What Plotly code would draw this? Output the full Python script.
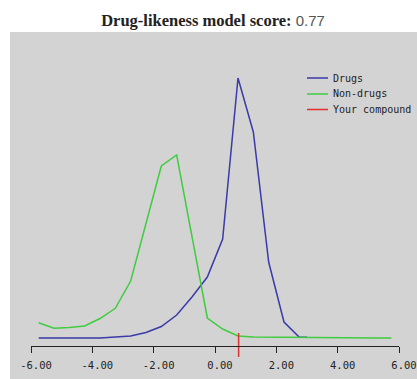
import plotly.graph_objects as go

# ---- data ----
drug_x = [-5.75, -5.25, -4.75, -4.25, -3.75, -3.25, -2.75, -2.25, -1.75, -1.25,
          -0.75, -0.25, 0.25, 0.75, 1.25, 1.75, 2.25, 2.75, 3.0]
drug_y = [0.0, 0.0, 0.0, 0.0, 0.0, 0.1, 0.2, 0.55, 1.15, 2.3,
          4.1, 6.1, 9.9, 26.0, 20.6, 7.6, 1.6, 0.07, 0.07]

nondrug_x = [-5.75, -5.25, -4.75, -4.25, -3.75, -3.25, -2.75, -2.25, -1.75, -1.25,
             -0.75, -0.25, 0.25, 0.75, 1.25, 1.75, 2.25, 2.75, 3.25, 3.75,
             4.25, 4.75, 5.25, 5.75]
nondrug_y = [1.53, 0.97, 1.05, 1.2, 1.95, 2.97, 5.7, 11.5, 17.2, 18.3,
             10.0, 2.0, 0.9, 0.2, 0.1, 0.08, 0.05, 0.05, 0.02, 0.0,
             0.0, 0.0, 0.0, 0.0]

score = 0.77
marker_y = [0.5, -1.9]

series_names = ["Drugs", "Non-drugs", "Your compound"]
series_colors = ["#3a3aa8", "#3fcc3f", "#e03030"]

tick_vals = [-6, -4, -2, 0, 2, 4, 6]
tick_text = ["-6.00", "-4.00", "-2.00", "0.00", "2.00", "4.00", "6.00"]

# ---- geometry ----
W, H = 417, 379
ml, mr, mt, mb = 31, 18, 40, 19
plot_h = H - mt - mb
pw = W - ml - mr
axis_px = 346
GRAY = "#d3d3d3"


def px_x(p):
    return (p - ml) / pw


def px_y(p):
    return (H - mb - p) / plot_h


fig = go.Figure()
fig.add_trace(go.Scatter(x=drug_x, y=drug_y, mode="lines", name=series_names[0],
                         line=dict(color=series_colors[0], width=1.5)))
fig.add_trace(go.Scatter(x=nondrug_x, y=nondrug_y, mode="lines", name=series_names[1],
                         line=dict(color=series_colors[1], width=1.5)))
fig.add_trace(go.Scatter(x=[score, score], y=marker_y, mode="lines", name=series_names[2],
                         line=dict(color=series_colors[2], width=1.5)))

# gray panel behind the whole chart
fig.add_shape(type="rect", xref="paper", yref="paper", layer="below",
              x0=px_x(10), x1=px_x(W + 2), y0=px_y(H + 2), y1=px_y(32),
              fillcolor=GRAY, line=dict(width=0))

# legend drawn by hand (compact rows)
legend_rows = [78, 94, 109.5]
for name, color, ry in zip(series_names, series_colors, legend_rows):
    fig.add_shape(type="line", xref="paper", yref="paper",
                  x0=px_x(307), x1=px_x(328), y0=px_y(ry), y1=px_y(ry),
                  line=dict(color=color, width=1.5))
    fig.add_annotation(xref="paper", yref="paper", x=px_x(331), y=px_y(ry),
                       xanchor="left", yanchor="middle", showarrow=False,
                       text=name, font=dict(family="DejaVu Sans Mono", size=10, color="#222"))

fig.update_layout(
    width=W, height=H,
    margin=dict(l=ml, r=mr, t=mt, b=mb, autoexpand=False),
    paper_bgcolor="white", plot_bgcolor=GRAY,
    title=dict(
        text="<b>Drug-likeness model score:</b> "
             "<span style='font-family:Liberation Sans;font-size:15px;color:#555'>0.77</span>",
        font=dict(family="Liberation Serif", size=16.5, color="#222"),
        x=213 / W, xanchor="center", xref="container",
        y=1 - 20 / H, yanchor="middle", yref="container"),
    showlegend=False,
    xaxis=dict(range=[-6, 6], tickvals=tick_vals, ticktext=tick_text, automargin=False,
               showgrid=False, zeroline=False, showline=True, linecolor="#222", linewidth=1,
               ticks="outside", ticklen=6, tickcolor="#222",
               tickfont=dict(family="DejaVu Sans Mono", size=10.5, color="#222"),
               ticklabelshift=5, ticklabelstandoff=3,
               anchor="free", position=px_y(axis_px)),
    yaxis=dict(range=[(338 - (H - mb)) / 10, (338 - mt) / 10], visible=False, automargin=False,
               showgrid=False, zeroline=False),
)

fig.write_html("out.html")
